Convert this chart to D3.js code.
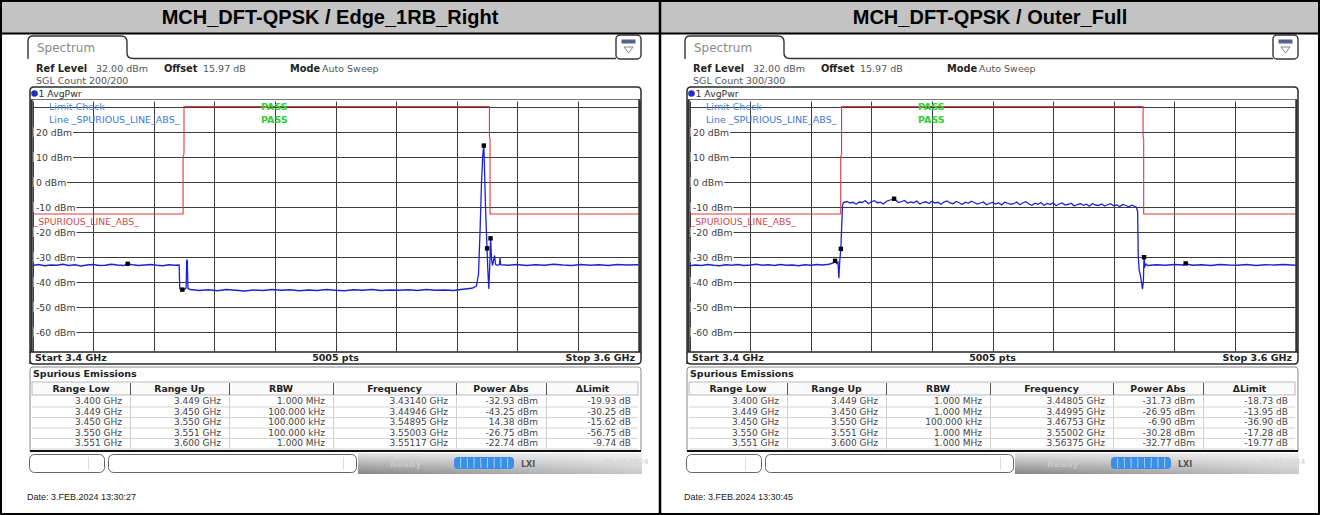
<!DOCTYPE html>
<html><head><meta charset="utf-8">
<script src="https://cdn.jsdelivr.net/npm/d3@7"></script>
<style>body{margin:0;background:#fff}svg{display:block}</style>
</head><body><svg id="c" width="1320" height="515"></svg>
<script>
// ---------------- DATA ----------------
const panelTitles = ["MCH_DFT-QPSK / Edge_1RB_Right", "MCH_DFT-QPSK / Outer_Full"];
const sglCounts = ["200/200", "300/300"];
const dateStamps = ["Date: 3.FEB.2024  13:30:27", "Date: 3.FEB.2024  13:30:45"];
const yTickValues = [20, 10, 0, -10, -20, -30, -40, -50, -60];
const freqDomain = [3.4, 3.6];
const levelDomain = [32, -68];

// limit line (GHz, dBm) per panel
const limitEdge = [[3.4, -13], [3.4497, -13], [3.4497, 10], [3.4500, 11], [3.4500, 30], [3.5508, 30], [3.5508, 18], [3.5510, 17], [3.5510, -13], [3.6, -13]];
const limitOuter = [[3.4, -13], [3.4499, -13], [3.4499, 10], [3.4502, 11], [3.4502, 30], [3.5497, 30], [3.5497, 18], [3.5499, 17], [3.5499, -13], [3.6, -13]];

// traces (GHz, dBm)
const traceEdge = [
[3.4000,-33.6],[3.4020,-33.2],[3.4040,-33.7],[3.4060,-33.4],[3.4080,-33.5],[3.4100,-33.1],[3.4120,-33.6],[3.4140,-33.3],[3.4160,-33.8],[3.4180,-33.4],[3.4200,-33.2],[3.4220,-33.6],[3.4240,-33.5],[3.4260,-33.1],[3.4280,-33.4],[3.4300,-33.6],[3.4314,-33.0],[3.4330,-33.3],[3.4350,-33.6],[3.4370,-33.4],[3.4390,-33.2],[3.4410,-33.5],[3.4430,-33.7],[3.4450,-33.3],[3.4470,-33.5],[3.4484,-33.4],
[3.4486,-42.8],[3.4495,-43.3],[3.4503,-43.1],[3.4507,-42.6],[3.4509,-31.2],[3.4511,-31.8],[3.4513,-42.7],[3.4520,-43.2],
[3.4550,-43.6],[3.4580,-43.3],[3.4610,-43.7],[3.4640,-43.2],[3.4670,-43.5],[3.4700,-43.8],[3.4730,-43.4],[3.4760,-43.6],[3.4790,-43.2],[3.4820,-43.5],[3.4850,-43.3],[3.4880,-43.7],[3.4910,-43.4],[3.4940,-43.6],[3.4970,-43.2],[3.5000,-43.5],[3.5030,-43.7],[3.5060,-43.3],[3.5090,-43.5],[3.5120,-43.2],[3.5150,-43.6],[3.5180,-43.4],[3.5210,-43.5],[3.5240,-43.3],[3.5270,-43.6],[3.5300,-43.2],[3.5330,-43.5],[3.5360,-43.4],[3.5390,-43.6],[3.5420,-43.1],[3.5450,-42.7],[3.5465,-41.8],
[3.5472,-37.0],[3.5477,-20.0],[3.5482,0.0],[3.5486,10.5],[3.54895,14.4],[3.5492,4.0],[3.5495,-10.0],[3.5498,-20.0],[3.5500,-26.8],[3.5503,-36.0],[3.5506,-43.0],[3.5509,-34.0],[3.5512,-22.8],[3.5515,-31.0],[3.5518,-33.6],[3.5525,-29.6],[3.5528,-33.1],[3.5535,-33.5],[3.5541,-33.2],[3.5543,-30.6],[3.5545,-33.3],
[3.5570,-33.5],[3.5600,-33.2],[3.5630,-33.6],[3.5660,-33.3],[3.5690,-33.5],[3.5720,-33.1],[3.5750,-33.4],[3.5780,-33.6],[3.5810,-33.2],[3.5840,-33.5],[3.5870,-33.3],[3.5900,-33.6],[3.5930,-33.2],[3.5960,-33.4],[3.6000,-33.3]
];
const traceOuter = [
[3.4000,-33.7],[3.4020,-33.4],[3.4040,-33.6],[3.4060,-33.2],[3.4080,-33.5],[3.4100,-33.7],[3.4120,-33.3],[3.4140,-33.5],[3.4160,-33.2],[3.4180,-33.6],[3.4200,-33.4],[3.4220,-33.1],[3.4240,-33.5],[3.4260,-33.3],[3.4280,-33.6],[3.4300,-33.2],[3.4320,-33.5],[3.4340,-33.4],[3.4360,-33.7],[3.4380,-33.3],[3.4400,-33.5],[3.4420,-33.2],[3.4440,-33.4],[3.4460,-33.1],[3.4475,-32.6],[3.4481,-32.0],[3.4486,-32.9],[3.4490,-32.3],[3.4493,-38.7],[3.4496,-31.5],[3.44995,-27.0],[3.4502,-19.0],[3.4505,-9.5],[3.4508,-8.4],
[3.4520,-8.0],[3.4530,-8.6],[3.4540,-8.3],[3.4550,-9.1],[3.4560,-8.2],[3.4570,-8.4],[3.4580,-7.6],[3.4590,-8.9],[3.4600,-8.1],[3.4610,-7.7],[3.4620,-8.5],[3.4630,-8.3],[3.4640,-9.0],[3.4650,-7.9],[3.4660,-7.5],[3.46753,-6.9],[3.4690,-8.4],[3.4700,-8.0],[3.4710,-7.6],[3.4720,-8.7],[3.4730,-8.2],[3.4740,-8.5],[3.4750,-7.8],[3.4760,-9.0],[3.4770,-8.4],[3.4780,-8.1],[3.4790,-8.8],[3.4800,-7.9],[3.4810,-8.6],[3.4820,-8.3],[3.4830,-9.1],[3.4840,-8.2],[3.4850,-7.8],[3.4860,-8.6],[3.4870,-8.9],[3.4880,-8.0],[3.4890,-8.5],[3.4900,-9.2],[3.4910,-8.3],[3.4920,-8.7],[3.4930,-7.9],[3.4940,-8.4],[3.4950,-9.0],[3.4960,-8.6],[3.4970,-8.2],[3.4980,-9.3],[3.4990,-8.8],[3.5000,-8.4],[3.5010,-9.0],[3.5020,-8.5],[3.5030,-9.4],[3.5040,-8.3],[3.5050,-8.7],[3.5060,-9.1],[3.5070,-8.9],[3.5080,-8.2],[3.5090,-9.3],[3.5100,-8.6],[3.5110,-8.1],[3.5120,-9.0],[3.5130,-9.5],[3.5140,-8.7],[3.5150,-9.1],[3.5160,-8.4],[3.5170,-9.6],[3.5180,-8.8],[3.5190,-9.2],[3.5200,-8.5],[3.5210,-9.7],[3.5220,-9.0],[3.5230,-8.6],[3.5240,-9.4],[3.5250,-9.1],[3.5260,-8.7],[3.5270,-9.8],[3.5280,-9.2],[3.5290,-8.9],[3.5300,-9.5],[3.5310,-9.1],[3.5320,-9.9],[3.5330,-8.8],[3.5340,-9.4],[3.5350,-9.6],[3.5360,-9.0],[3.5370,-9.8],[3.5380,-9.3],[3.5390,-8.9],[3.5400,-9.7],[3.5410,-9.4],[3.5420,-10.0],[3.5430,-9.2],[3.5440,-9.6],[3.5450,-10.1],[3.5460,-9.5],[3.5467,-9.8],[3.5475,-10.3],
[3.5479,-12.0],[3.5481,-30.0],[3.5484,-35.5],[3.5488,-37.5],[3.5492,-40.5],[3.5495,-43.1],[3.5498,-40.0],[3.5500,-30.3],[3.5503,-33.9],[3.5507,-33.0],[3.5512,-33.6],
[3.5540,-33.3],[3.5570,-33.5],[3.5600,-33.2],[3.5630,-33.4],[3.56375,-32.9],[3.5660,-33.5],[3.5690,-33.3],[3.5720,-33.6],[3.5750,-33.2],[3.5780,-33.4],[3.5810,-33.5],[3.5840,-33.2],[3.5870,-33.6],[3.5900,-33.3],[3.5930,-33.4],[3.5960,-33.2],[3.6000,-33.5]
];

// spurious emission tables
const tableHeaders = ["Range Low", "Range Up", "RBW", "Frequency", "Power Abs", "\u0394Limit"];
const rangeLow = ["3.400 GHz", "3.449 GHz", "3.450 GHz", "3.550 GHz", "3.551 GHz"];
const rangeUp = ["3.449 GHz", "3.450 GHz", "3.550 GHz", "3.551 GHz", "3.600 GHz"];
const rbwEdge = ["1.000 MHz", "100.000 kHz", "100.000 kHz", "100.000 kHz", "1.000 MHz"];
const rbwOuter = ["1.000 MHz", "1.000 MHz", "100.000 kHz", "1.000 MHz", "1.000 MHz"];
const freqEdge = [3.43140, 3.44946, 3.54895, 3.55003, 3.55117];
const powerEdge = [-32.93, -43.25, 14.38, -26.75, -22.74];
const deltaEdge = [-19.93, -30.25, -15.62, -56.75, -9.74];
const freqOuter = [3.44805, 3.44995, 3.46753, 3.55002, 3.56375];
const powerOuter = [-31.73, -26.95, -6.90, -30.28, -32.77];
const deltaOuter = [-18.73, -13.95, -36.90, -17.28, -19.77];

// ---------------- DRAW ----------------
const svg = d3.select("#c");
const FONT = "DejaVu Sans, Verdana, sans-serif";
const defs = svg.append("defs");
const g1 = defs.append("linearGradient").attr("id", "statusGrad").attr("x1", 0).attr("y1", 0).attr("x2", 0).attr("y2", 1);
g1.append("stop").attr("offset", 0).attr("stop-color", "#e4e4e4");
g1.append("stop").attr("offset", 1).attr("stop-color", "#858585");
const g2 = defs.append("linearGradient").attr("id", "statusGradH").attr("x1", 0).attr("y1", 0).attr("x2", 1).attr("y2", 0);
g2.append("stop").attr("offset", 0).attr("stop-color", "#fff").attr("stop-opacity", 0.0);
g2.append("stop").attr("offset", 1).attr("stop-color", "#fff").attr("stop-opacity", 0.55);

svg.append("rect").attr("width", 1320).attr("height", 515).attr("fill", "#fff");

const panels = [
  {dx: 0, cx: 330, title: panelTitles[0], sgl: sglCounts[0], date: dateStamps[0], limit: limitEdge, trace: traceEdge, rbw: rbwEdge, freq: freqEdge, power: powerEdge, delta: deltaEdge},
  {dx: 657, cx: 990, title: panelTitles[1], sgl: sglCounts[1], date: dateStamps[1], limit: limitOuter, trace: traceOuter, rbw: rbwOuter, freq: freqOuter, power: powerOuter, delta: deltaOuter}
];

// title bars
panels.forEach((p, i) => {
  svg.append("rect").attr("x", i * 660).attr("y", 0).attr("width", 660).attr("height", 33).attr("fill", "#c3c3c3");
  svg.append("text").attr("x", p.cx).attr("y", 24).attr("text-anchor", "middle")
    .attr("font-family", "Liberation Sans, Arial, sans-serif").attr("font-weight", "bold").attr("font-size", 20)
    .attr("fill", "#000").text(p.title);
});
svg.append("line").attr("x1", 0).attr("x2", 1320).attr("y1", 33.5).attr("y2", 33.5).attr("stroke", "#000").attr("stroke-width", 2);

const PX0 = 32.5, PX1 = 638.5, PY0 = 101.5, PY1 = 351.5;

panels.forEach(p => {
  const g = svg.append("g").attr("transform", `translate(${p.dx},0)`);
  const x = d3.scaleLinear().domain(freqDomain).range([PX0, PX1]);
  const y = d3.scaleLinear().domain(levelDomain).range([PY0, PY1]);
  const txt = (tx, ty, s, opt = {}) => g.append("text").attr("x", tx).attr("y", ty)
      .attr("font-family", opt.family || FONT).attr("font-size", opt.size || 9.5)
      .attr("font-weight", opt.bold ? "bold" : "normal").attr("fill", opt.fill || "#333")
      .attr("text-anchor", opt.anchor || "start").text(s);

  // tab + header line
  g.append("path").attr("d", "M28,59 V41 Q28,36 33,36 H121 Q127,36 127,42 V53 Q127,58.5 133,58.5 H616")
    .attr("fill", "none").attr("stroke", "#333").attr("stroke-width", 1.4);
  txt(37, 52, "Spectrum", {size: 12, fill: "#8a8a8a"});
  // menu icon
  g.append("rect").attr("x", 616).attr("y", 35).attr("width", 25).attr("height", 24).attr("rx", 4)
    .attr("fill", "#fff").attr("stroke", "#333").attr("stroke-width", 1.4);
  g.append("rect").attr("x", 621.5).attr("y", 39.5).attr("width", 14).attr("height", 4).attr("fill", "#55618f");
  g.append("path").attr("d", "M624,47 H633 L628.5,53 Z").attr("fill", "none").attr("stroke", "#777").attr("stroke-width", 0.9);

  // header
  txt(36, 71.5, "Ref Level", {bold: true, size: 9.8, fill: "#222"});
  txt(96, 71.5, "32.00 dBm", {fill: "#555"});
  txt(164, 71.5, "Offset", {bold: true, size: 9.8, fill: "#222"});
  txt(203, 71.5, "15.97 dB", {fill: "#555"});
  txt(290, 71.5, "Mode", {bold: true, size: 9.8, fill: "#222"});
  txt(322, 71.5, "Auto Sweep", {fill: "#555"});
  txt(36, 83.5, "SGL Count " + p.sgl, {fill: "#555"});

  // trace box outline
  g.append("path").attr("d", "M30,364 V91 Q30,87 34,87 H637 Q641,87 641,91 V360 Q641,364 637,364 H34 Q30,364 30,360 Z")
    .attr("fill", "#fff").attr("stroke", "#2a2a2a").attr("stroke-width", 1.5);
  g.append("line").attr("x1", 30).attr("x2", 641).attr("y1", 99.5).attr("y2", 99.5).attr("stroke", "#777").attr("stroke-width", 1);
  g.append("circle").attr("cx", 34.5).attr("cy", 93.5).attr("r", 3.3).attr("fill", "#1f2fc8");
  txt(38.5, 97, "1 AvgPwr", {size: 9.3});

  // grid
  const grid = g.append("g").attr("stroke", "#3c3c3c").attr("stroke-width", 1);
  x.ticks(10).forEach(f => grid.append("line").attr("x1", Math.round(x(f)) + 0.5).attr("x2", Math.round(x(f)) + 0.5).attr("y1", PY0).attr("y2", PY1));
  [30].concat(yTickValues).forEach(v => grid.append("line").attr("x1", PX0).attr("x2", PX1).attr("y1", Math.round(y(v)) + 0.5).attr("y2", Math.round(y(v)) + 0.5));

  // y labels
  yTickValues.forEach(v => {
    const t = txt(36, Math.round(y(v)) + 4, v + " dBm", {size: 9.3, fill: "#3a3a3a"});
    const w = t.node().getComputedTextLength();
    g.insert("rect", "text:last-of-type").attr("x", 33.5).attr("y", Math.round(y(v)) - 5).attr("width", w + 3.5).attr("height", 10).attr("fill", "#fff");
    t.raise();
  });

  // limit line
  const limitLine = d3.line().x(d => x(d[0])).y(d => y(d[1]));
  g.append("path").attr("d", limitLine(p.limit)).attr("fill", "none").attr("stroke", "#e03a3a").attr("stroke-width", 1.1);
  txt(33.5, 225, "_SPURIOUS_LINE_ABS_", {size: 9.3, fill: "#d24a4a"});

  // limit check text
  txt(49, 109.5, "Limit Check", {size: 9.5, fill: "#4f86dd"});
  txt(49, 122.5, "Line _SPURIOUS_LINE_ABS_", {size: 9.5, fill: "#3b78da"});
  txt(261, 109.5, "PASS", {size: 9.5, fill: "#35cc35", bold: true});
  txt(261, 122.5, "PASS", {size: 9.5, fill: "#35cc35", bold: true});

  // trace
  const traceLine = d3.line().x(d => x(d[0])).y(d => y(d[1]));
  g.append("path").attr("d", traceLine(p.trace)).attr("fill", "none").attr("stroke", "#1b22d6").attr("stroke-width", 1.3);

  // markers
  p.freq.forEach((f, i) => {
    g.append("rect").attr("x", x(f) - 2.2).attr("y", y(p.power[i]) - 2.2).attr("width", 4.4).attr("height", 4.4).attr("fill", "#000");
  });

  // plot frame
  g.append("line").attr("x1", 31.5).attr("x2", 31.5).attr("y1", 99.5).attr("y2", 352).attr("stroke", "#333").attr("stroke-width", 2.5);
  g.append("line").attr("x1", 639.5).attr("x2", 639.5).attr("y1", 99.5).attr("y2", 352).attr("stroke", "#333").attr("stroke-width", 2.5);
  g.append("line").attr("x1", 30).attr("x2", 641).attr("y1", 352).attr("y2", 352).attr("stroke", "#222").attr("stroke-width", 1.6);
  txt(35, 361, "Start 3.4 GHz", {bold: true, size: 9.5, fill: "#222"});
  txt((PX0 + PX1) / 2, 361, "5005 pts", {bold: true, size: 9.5, fill: "#222", anchor: "middle"});
  txt(635, 361, "Stop 3.6 GHz", {bold: true, size: 9.5, fill: "#222", anchor: "end"});

  // table
  const T0 = 367, RH = 10.5;
  g.append("path").attr("d", `M30,${T0 + 84} V${T0 + 3} Q30,${T0} 33,${T0} H638 Q641,${T0} 641,${T0 + 3} V${T0 + 84}`)
    .attr("fill", "#fff").attr("stroke", "#888").attr("stroke-width", 1);
  g.append("line").attr("x1", 30).attr("x2", 641).attr("y1", T0 + 84).attr("y2", T0 + 84).attr("stroke", "#111").attr("stroke-width", 2);
  txt(33, T0 + 10, "Spurious Emissions", {bold: true, size: 9.5, fill: "#222"});
  const cols = [32, 130, 229, 333, 456, 546, 639];
  g.append("rect").attr("x", 32).attr("y", T0 + 15).attr("width", 606).attr("height", 13).attr("fill", "#fafafa").attr("stroke", "#aaa").attr("stroke-width", 0.8);
  tableHeaders.forEach((h, j) => {
    txt((cols[j] + cols[j + 1]) / 2, T0 + 25, h, {bold: true, size: 9.3, fill: "#222", anchor: "middle"});
    if (j > 0) g.append("line").attr("x1", cols[j] + 0.5).attr("x2", cols[j] + 0.5).attr("y1", T0 + 16).attr("y2", T0 + 28).attr("stroke", "#555").attr("stroke-width", 1);
  });
  const rows = rangeLow.map((r, i) => [r, rangeUp[i], p.rbw[i], p.freq[i].toFixed(5) + " GHz", p.power[i].toFixed(2) + " dBm", p.delta[i].toFixed(2) + " dB"]);
  rows.forEach((row, i) => {
    const by = T0 + 37 + i * RH;
    g.append("line").attr("x1", 32).attr("x2", 638).attr("y1", by + 3).attr("y2", by + 3).attr("stroke", "#d4d4d4").attr("stroke-width", 1);
    row.forEach((c, j) => {
      txt(cols[j + 1] - 8, by, c, {size: 9, fill: "#444", anchor: "end"});
      if (j > 0) g.append("line").attr("x1", cols[j] + 0.5).attr("x2", cols[j] + 0.5).attr("y1", by - 7.5).attr("y2", by + 3).attr("stroke", "#d0d0d0").attr("stroke-width", 1);
    });
  });

  // status bar
  const SB = T0 + 87;
  g.append("rect").attr("x", 29.5).attr("y", SB + 0.5).attr("width", 75).attr("height", 18).attr("rx", 5).attr("fill", "#fff").attr("stroke", "#666");
  g.append("line").attr("x1", 88.5).attr("x2", 88.5).attr("y1", SB + 3).attr("y2", SB + 16).attr("stroke", "#ddd");
  g.append("rect").attr("x", 108.5).attr("y", SB + 0.5).attr("width", 248).attr("height", 18).attr("rx", 5).attr("fill", "#fff").attr("stroke", "#666");
  g.append("line").attr("x1", 343.5).attr("x2", 343.5).attr("y1", SB + 3).attr("y2", SB + 16).attr("stroke", "#ddd");
  g.append("rect").attr("x", 358).attr("y", SB - 1).attr("width", 284).attr("height", 21).attr("fill", "url(#statusGrad)");
  g.append("rect").attr("x", 358).attr("y", SB - 1).attr("width", 284).attr("height", 21).attr("fill", "url(#statusGradH)");
  txt(390, SB + 13, "Ready", {size: 9, fill: "#c9c9c9", bold: true});
  g.append("rect").attr("x", 454).attr("y", SB + 3).attr("width", 60).attr("height", 12).attr("rx", 4).attr("fill", "#3b8fe6");
  d3.range(1, 9).forEach(k => g.append("line").attr("x1", 454 + k * 6.7).attr("x2", 454 + k * 6.7).attr("y1", SB + 4).attr("y2", SB + 14).attr("stroke", "#bfe0ff").attr("stroke-width", 0.8));
  txt(521, SB + 13, "LXI", {size: 8, fill: "#555", bold: true});
  txt(604, SB + 10, "03.02.2024", {size: 7, fill: "#d8d8d8", bold: true});

  // date
  txt(27, 500, p.date, {size: 9, fill: "#222", family: "Liberation Sans, Arial, sans-serif"});
});

// borders
svg.append("rect").attr("x", 1).attr("y", 1).attr("width", 1318).attr("height", 513).attr("fill", "none").attr("stroke", "#000").attr("stroke-width", 2);
svg.append("line").attr("x1", 660).attr("x2", 660).attr("y1", 0).attr("y2", 515).attr("stroke", "#000").attr("stroke-width", 2.5);
</script></body></html>
